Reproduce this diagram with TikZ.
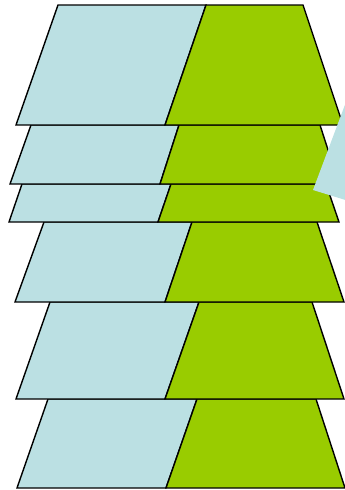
\documentclass[tikz,border=0pt]{standalone}
\usepackage{xcolor}
\definecolor{paleBlue}{RGB}{187,224,227}
\definecolor{leafGreen}{RGB}{153,204,0}

\begin{document}
\begin{tikzpicture}[
    x=1pt, y=-1pt,
    bluepart/.style={fill=paleBlue, draw=black, line width=1.4pt, line join=miter},
    greenpart/.style={fill=leafGreen, draw=black, line width=1.4pt, line join=miter},
    wedge/.style={fill=paleBlue, draw=none}
]
\useasboundingbox (0,0) rectangle (345,490);
\clip (0,0) rectangle (345,490);

% layers, bottom one first
% {top y / bottom y / blue top-left / split top / green top-right / blue bottom-left / split bottom / green bottom-right}
\foreach \yt/\yb/\atl/\stop/\gtr/\abl/\sbot/\gbr in {
    399/488/48/197/316/17/166/345,
    302/399/50/199/312/16/165/344,
    222/302/44/192/317/15/165/344,
    184/222/22/171/326/9/158/339,
    125/184/31/179/320/10/160/339,
    5/125/58/206/303/16/165/343}{
  \draw[bluepart] (\atl,\yt) -- (\stop,\yt) -- (\sbot,\yb) -- (\abl,\yb) -- cycle;
  \draw[greenpart] (\stop,\yt) -- (\gtr,\yt) -- (\gbr,\yb) -- (\sbot,\yb) -- cycle;
}

% the wedge coming in from the right
\fill[wedge] (313,190) -- (352,86) -- (352,202) -- cycle;
\end{tikzpicture}
\end{document}
